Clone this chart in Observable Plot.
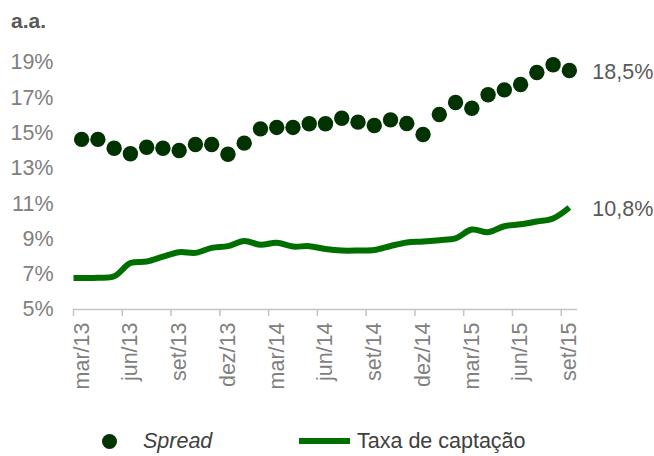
<!DOCTYPE html>
<html>
<head>
<meta charset="utf-8">
<script src="https://cdn.jsdelivr.net/npm/d3@7"></script>
<script src="https://cdn.jsdelivr.net/npm/@observablehq/plot@0.6"></script>
<style>
  html, body { margin: 0; padding: 0; background: #fff; }
  #wrap { position: relative; width: 654px; height: 456px; font-family: "Liberation Sans", Arial, sans-serif; }
  #title { height: 36px; box-sizing: border-box; padding: 10px 0 0 11px; font-size: 21px; line-height: 21px; font-weight: bold; color: #595959; }
  #chart svg { display: block; }
  #legend { position: relative; height: 35px; font-size: 21.5px; line-height: 21px; color: #404040; }
  #legend .item { position: absolute; top: 10px; }
  #legend .dot { position: absolute; top: 13px; left: 102px; width: 15px; height: 15px; border-radius: 50%; background: #003300; }
  #legend .swatch { position: absolute; top: 17px; left: 299px; width: 51px; height: 6px; background: #006f00; }
</style>
</head>
<body>
<div id="wrap">
  <div id="title">a.a.</div>
  <div id="chart"></div>
  <div id="legend">
    <span class="dot"></span>
    <span class="item" style="left:143px;font-style:italic">Spread</span>
    <span class="swatch"></span>
    <span class="item" style="left:357px">Taxa de captação</span>
  </div>
</div>
<script>
const months = ["mar/13","abr/13","mai/13","jun/13","jul/13","ago/13","set/13","out/13","nov/13","dez/13",
  "jan/14","fev/14","mar/14","abr/14","mai/14","jun/14","jul/14","ago/14","set/14","out/14","nov/14","dez/14",
  "jan/15","fev/15","mar/15","abr/15","mai/15","jun/15","jul/15","ago/15","set/15"];

const spread = [14.64, 14.64, 14.14, 13.83, 14.2, 14.14, 14.01, 14.35, 14.35, 13.8,
  14.43, 15.24, 15.32, 15.32, 15.53, 15.53, 15.84, 15.62, 15.43, 15.75, 15.54, 14.92,
  16.05, 16.73, 16.41, 17.17, 17.45, 17.75, 18.43, 18.87, 18.55];

const captacao = [6.79, 6.80, 6.88, 7.63, 7.72, 8.0, 8.25, 8.21, 8.49, 8.59,
  8.88, 8.67, 8.78, 8.57, 8.59, 8.43, 8.34, 8.34, 8.37, 8.6, 8.80, 8.85,
  8.93, 9.03, 9.53, 9.38, 9.72, 9.83, 9.99, 10.16, 10.78];
const captacaoAxisEdge = 6.79; // value where the line meets the left axis edge

const yTicks = [5, 7, 9, 11, 13, 15, 17, 19];
const xLabelEvery = 3;
const endLabels = ["18,5%", "10,8%"];

const spreadData = spread.map((v, i) => ({i, v}));
const captacaoData = [{i: -0.5, v: captacaoAxisEdge}, ...captacao.map((v, i) => ({i, v}))];
const last = months.length - 1;
const labelIdx = d3.range(0, months.length, xLabelEvery);
const tickIdx = labelIdx.map(i => i - 0.5);
const endData = [
  {i: last, v: spread[last], t: endLabels[0]},
  {i: last, v: captacao[last], t: endLabels[1]}
];

const chart = Plot.plot({
  width: 654,
  height: 385,
  marginLeft: 73,
  marginRight: 77,
  marginTop: 26,
  marginBottom: 112,
  style: {fontFamily: "'Liberation Sans', Arial, sans-serif", background: "#fff", overflow: "visible"},
  x: {type: "linear", domain: [-0.5, last + 0.5]},
  y: {domain: [5, 19]},
  marks: [
    Plot.axisY({ticks: yTicks, tickSize: 0, tickPadding: 20, tickFormat: d => d + "%", fontSize: 21.5, fill: "#808080", label: null}),
    Plot.axisX({ticks: labelIdx, tickSize: 0, tickPadding: 13, tickRotate: -90, tickFormat: i => months[i], fontSize: 21.5, fill: "#808080", label: null}),
    Plot.ruleX(tickIdx, {x: d => d, y1: 5, y2: 5, insetBottom: -7, stroke: "#c4c4c4", strokeWidth: 1.5}),
    Plot.ruleY([5], {stroke: "#c4c4c4", strokeWidth: 1.5}),
    Plot.line(captacaoData, {x: "i", y: "v", stroke: "#006f00", strokeWidth: 6, curve: "catmull-rom", strokeLinecap: "butt", strokeLinejoin: "round"}),
    Plot.dot(spreadData, {x: "i", y: "v", r: 7.7, fill: "#003300", stroke: "none"}),
    Plot.text(endData, {x: "i", y: "v", text: "t", dx: 23, dy: 2, textAnchor: "start", fontSize: 21.5, fill: "#595959"})
  ]
});
document.getElementById("chart").appendChild(chart);
</script>
</body>
</html>
